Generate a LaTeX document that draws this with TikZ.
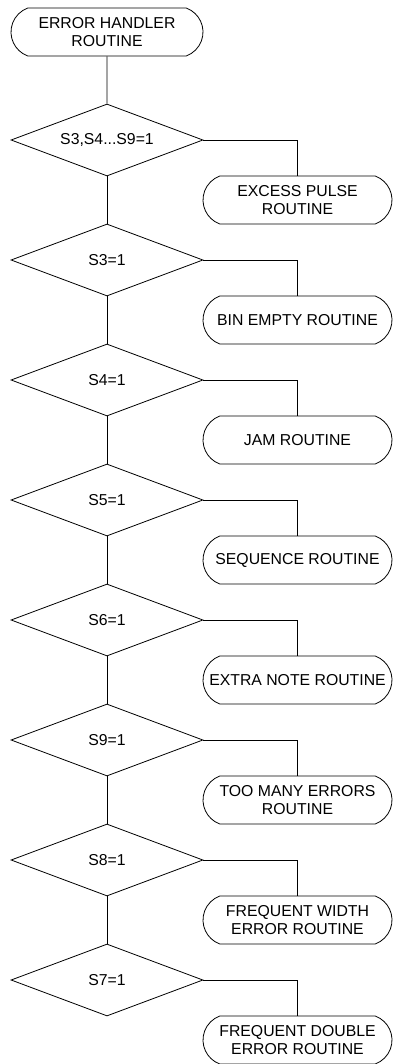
\documentclass[tikz,border=0pt]{standalone}
\usepackage{fontspec}
\setmainfont{Liberation Sans}
\usetikzlibrary{shapes.geometric,shapes.misc}

\tikzset{every picture/.style={line width=0.6pt}}
\tikzset{
  routine/.style={draw, rounded rectangle, rounded rectangle arc length=140,
    align=center, inner sep=0pt,
    minimum height=36pt, font=\fontsize{11.85}{13.5}\selectfont},
  test/.style={draw, diamond, aspect=2.67, inner sep=0pt,
    minimum width=144pt, minimum height=54pt, font=\fontsize{11.85}{13.5}\selectfont}
}

\begin{document}
\begin{tikzpicture}[x=0.75pt,y=0.75pt,yscale=-1,xscale=1]
\useasboundingbox (0,0) rectangle (393,1064);

% Start
\node [routine, minimum width=144pt] (start) at (107,32) {ERROR HANDLER\\ROUTINE};

% Tests
\node [test] (t1) at (107,140) {S3,S4...S9=1};
\node [test] (t2) at (107,260) {S3=1};
\node [test] (t3) at (107,380) {S4=1};
\node [test] (t4) at (107,500) {S5=1};
\node [test] (t5) at (107,620) {S6=1};
\node [test] (t6) at (107,740) {S9=1};
\node [test] (t7) at (107,860) {S8=1};
\node [test] (t8) at (107,980) {S7=1};

% Routines
\node [routine, minimum width=141.75pt] (r1) at (297.5,200) {EXCESS PULSE\\ROUTINE};
\node [routine, minimum width=141.75pt] (r2) at (297.5,320) {BIN EMPTY ROUTINE};
\node [routine, minimum width=141.75pt] (r3) at (297.5,440) {JAM ROUTINE};
\node [routine, minimum width=141.75pt] (r4) at (297.5,560) {SEQUENCE ROUTINE};
\node [routine, minimum width=141.75pt] (r5) at (297.5,680) {EXTRA NOTE ROUTINE};
\node [routine, minimum width=141.75pt] (r6) at (297.5,800) {TOO MANY ERRORS\\ROUTINE};
\node [routine, minimum width=141.75pt] (r7) at (297.5,920) {FREQUENT WIDTH\\ERROR ROUTINE};
\node [routine, minimum width=141.75pt] (r8) at (297.5,1040) {FREQUENT DOUBLE\\ERROR ROUTINE};

% Straight Lines
\draw (start) -- (t1);
\draw (t1) -- (t2);
\draw (t2) -- (t3);
\draw (t3) -- (t4);
\draw (t4) -- (t5);
\draw (t5) -- (t6);
\draw (t6) -- (t7);
\draw (t7) -- (t8);

% Branches
\draw (t1.east) -| (r1.north);
\draw (t2.east) -| (r2.north);
\draw (t3.east) -| (r3.north);
\draw (t4.east) -| (r4.north);
\draw (t5.east) -| (r5.north);
\draw (t6.east) -| (r6.north);
\draw (t7.east) -| (r7.north);
\draw (t8.east) -| (r8.north);

\end{tikzpicture}
\end{document}
